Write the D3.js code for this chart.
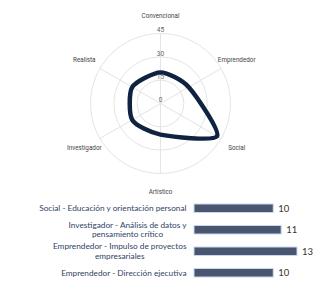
<!DOCTYPE html>
<html><head><meta charset="utf-8">
<script src="https://cdn.jsdelivr.net/npm/d3@7"></script>
<style>body{margin:0;background:#fff}svg{display:block}</style>
</head><body>
<script>
const axes = ["Convencional","Emprendedor","Social","Artístico","Investigador","Realista"];
const profile = [20, 21, 42, 20, 21, 21];
const radialTicks = [0, 15, 30, 45];
const barLabels = [
  ["Social - Educación y orientación personal"],
  ["Investigador - Análisis de datos y","pensamiento crítico"],
  ["Emprendedor - Impulso de proyectos","empresariales"],
  ["Emprendedor - Dirección ejecutiva"]
];
const barValues = [10, 11, 13, 10];

const W = 331, H = 299;
const svg = d3.select("body").append("svg").attr("width", W).attr("height", H);

// Radar
const cx = 160.5, cy = 103.5, R = 70;
const r = d3.scaleLinear().domain([0, 45]).range([0, R]);
const ang = d3.scalePoint().domain(axes).range([0, 2*Math.PI*(axes.length-1)/axes.length]);
const g = svg.append("g").attr("transform", `translate(${cx},${cy})`);

radialTicks.filter(t => t > 0).forEach(t => {
  g.append("circle").attr("r", r(t)).attr("fill", "none").attr("stroke", "#e4e4e4").attr("stroke-width", 1);
});
axes.forEach(a => {
  const th = ang(a);
  g.append("line").attr("x1", 0).attr("y1", 0)
    .attr("x2", Math.sin(th)*r(45)).attr("y2", -Math.cos(th)*r(45))
    .attr("stroke", "#e4e4e4").attr("stroke-width", 1);
});

const line = d3.lineRadial()
  .angle((d, i) => ang(axes[i]))
  .radius(d => r(d))
  .curve(d3.curveCardinalClosed.tension(0.3));
g.append("path").datum(profile).attr("d", line)
  .attr("fill", "none").attr("stroke", "#0f2340").attr("stroke-width", 4.5).attr("stroke-linejoin", "round");

radialTicks.forEach(t => {
  g.append("text").attr("x", 0).attr("y", -r(t) - 1.2)
    .attr("text-anchor", "middle").attr("font-family", "Roboto, sans-serif")
    .attr("font-size", 6.5).attr("fill", "#666").text(t);
});

axes.forEach(a => {
  const th = ang(a), lr = 88;
  g.append("text").attr("x", Math.sin(th)*lr).attr("y", -Math.cos(th)*lr)
    .attr("dy", "0.35em").attr("text-anchor", "middle")
    .attr("font-family", "Roboto, sans-serif").attr("font-size", 6.3)
    .attr("fill", "#444").text(a);
});

// Bars
const x = d3.scaleLinear().domain([0, 13]).range([194, 297]);
const y = d3.scaleBand().domain(d3.range(barValues.length)).range([197.5, 283.5])
  .paddingInner(0.605).paddingOuter(0.3025);

const bg = svg.append("g");
barValues.forEach((v, i) => {
  bg.append("rect").attr("x", x(0)).attr("y", y(i)).attr("width", x(v) - x(0)).attr("height", y.bandwidth())
    .attr("fill", "#48566f").attr("stroke", "#cbd7f0").attr("stroke-width", 1);
  bg.append("text").attr("x", x(v) + 5).attr("y", y(i) + y.bandwidth()/2).attr("dy", "0.36em")
    .attr("font-family", "Lato, sans-serif").attr("font-size", 9.5).attr("fill", "#333").text(v);

  const lines = barLabels[i];
  const lh = 9.3;
  const cyL = y(i) + y.bandwidth()/2;
  const tg = bg.append("g");
  const ts = lines.map((s, j) => tg.append("text")
    .attr("y", cyL + (j - (lines.length-1)/2)*lh).attr("dy", "0.35em")
    .attr("font-family", "Lato, sans-serif").attr("font-size", 8.25)
    .attr("fill", "#2f3f66").text(s));
  const widths = ts.map(t => t.node().getComputedTextLength());
  const maxW = d3.max(widths);
  const right = 186.5;
  ts.forEach(t => t.attr("x", right - maxW/2).attr("text-anchor", "middle"));
});
</script>
</body></html>
